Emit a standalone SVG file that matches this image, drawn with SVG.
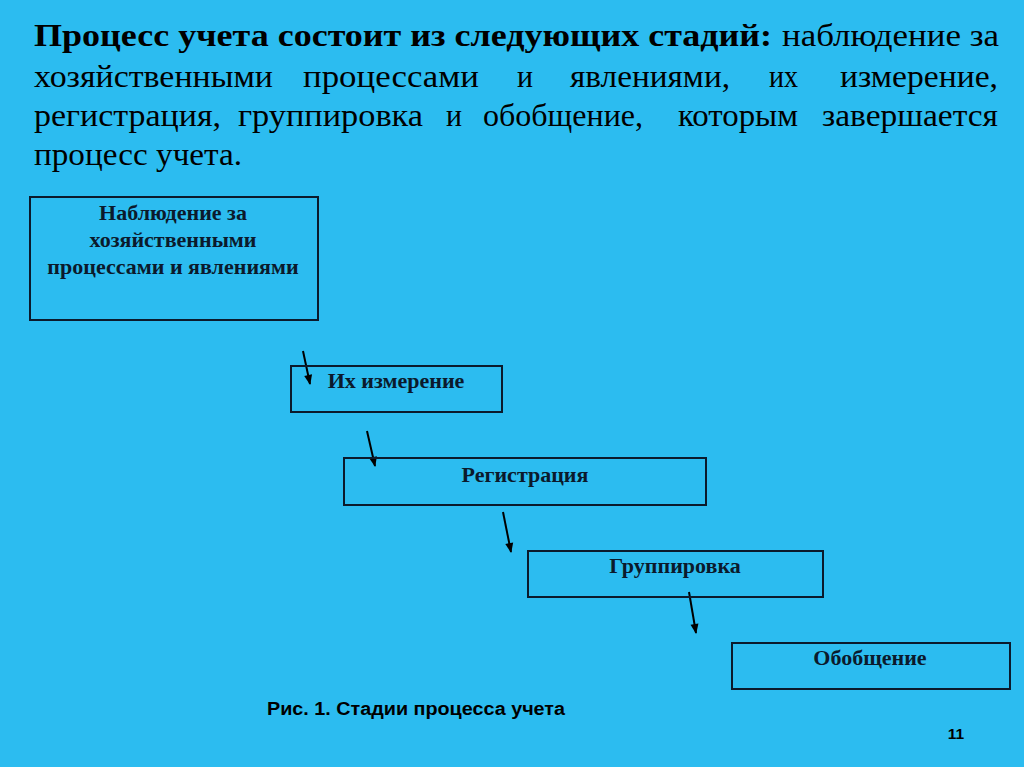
<svg xmlns="http://www.w3.org/2000/svg" width="1024" height="767" viewBox="0 0 1024 767">
<style>
.h{font-family:"Liberation Serif","Times New Roman",serif;font-size:32px;fill:#000}
.hb{font-weight:bold}
.box{fill:none;stroke:#0b1a2c;stroke-width:2}
.bt{font-family:"Liberation Serif","Times New Roman",serif;font-size:22px;font-weight:bold;fill:#0b1a2c;text-anchor:middle}
.conn{stroke:#000;stroke-width:2;fill:none;marker-end:url(#ah)}
.cap{font-family:"Liberation Sans",Arial,sans-serif;font-weight:bold;fill:#000}
</style>
<defs>
<marker id="ah" viewBox="0 0 10 10" refX="9" refY="5" markerWidth="5.5" markerHeight="5" orient="auto" markerUnits="strokeWidth">
<path d="M0,1 L10,5 L0,9 Z" fill="#000"/>
</marker>
</defs>
<rect width="1024" height="767" fill="#2cbcf0"/>
<g id="heading">
<text class="h hb" x="34" y="46" textLength="738" lengthAdjust="spacingAndGlyphs">Процесс учета состоит из следующих стадий:</text>
<text class="h" x="782" y="46" textLength="217" lengthAdjust="spacingAndGlyphs">наблюдение за</text>
<text class="h" x="34" y="87" textLength="239" lengthAdjust="spacingAndGlyphs">хозяйственными</text>
<text class="h" x="303" y="87" textLength="176" lengthAdjust="spacingAndGlyphs">процессами</text>
<text class="h" x="517" y="87" textLength="16" lengthAdjust="spacingAndGlyphs">и</text>
<text class="h" x="570" y="87" textLength="160" lengthAdjust="spacingAndGlyphs">явлениями,</text>
<text class="h" x="769" y="87" textLength="29" lengthAdjust="spacingAndGlyphs">их</text>
<text class="h" x="840" y="87" textLength="158" lengthAdjust="spacingAndGlyphs">измерение,</text>
<text class="h" x="34" y="126" textLength="187" lengthAdjust="spacingAndGlyphs">регистрация,</text>
<text class="h" x="238" y="126" textLength="185" lengthAdjust="spacingAndGlyphs">группировка</text>
<text class="h" x="446" y="126" textLength="16" lengthAdjust="spacingAndGlyphs">и</text>
<text class="h" x="483" y="126" textLength="160" lengthAdjust="spacingAndGlyphs">обобщение,</text>
<text class="h" x="678" y="126" textLength="120" lengthAdjust="spacingAndGlyphs">которым</text>
<text class="h" x="822" y="126" textLength="176" lengthAdjust="spacingAndGlyphs">завершается</text>
<text class="h" x="34" y="165" textLength="208" lengthAdjust="spacingAndGlyphs">процесс учета.</text>
</g>
<g id="connectors">
<line class="conn" x1="303" y1="351" x2="310" y2="384"/>
<line class="conn" x1="367" y1="431" x2="375" y2="466"/>
<line class="conn" x1="503" y1="512" x2="511" y2="552"/>
<line class="conn" x1="689" y1="592" x2="696" y2="633"/>
</g>
<g id="n1">
<rect class="box" x="30" y="197" width="288" height="123"/>
<text class="bt" x="173" y="220">Наблюдение за</text>
<text class="bt" x="173" y="247">хозяйственными</text>
<text class="bt" x="173" y="274">процессами и явлениями</text>
</g>
<g id="n2">
<rect class="box" x="291" y="366" width="211" height="46"/>
<text class="bt" x="396" y="388">Их измерение</text>
</g>
<g id="n3">
<rect class="box" x="344" y="458" width="362" height="47"/>
<text class="bt" x="525" y="482">Регистрация</text>
</g>
<g id="n4">
<rect class="box" x="528" y="551" width="295" height="46"/>
<text class="bt" x="675" y="573">Группировка</text>
</g>
<g id="n5">
<rect class="box" x="732" y="643" width="278" height="46"/>
<text class="bt" x="870" y="665">Обобщение</text>
</g>
<text class="cap" x="267" y="715" font-size="17.5" textLength="298" lengthAdjust="spacingAndGlyphs">Рис. 1. Стадии процесса учета</text>
<text class="cap" x="956" y="739" font-size="15.5" fill="#14243c" text-anchor="middle">11</text>
</svg>
